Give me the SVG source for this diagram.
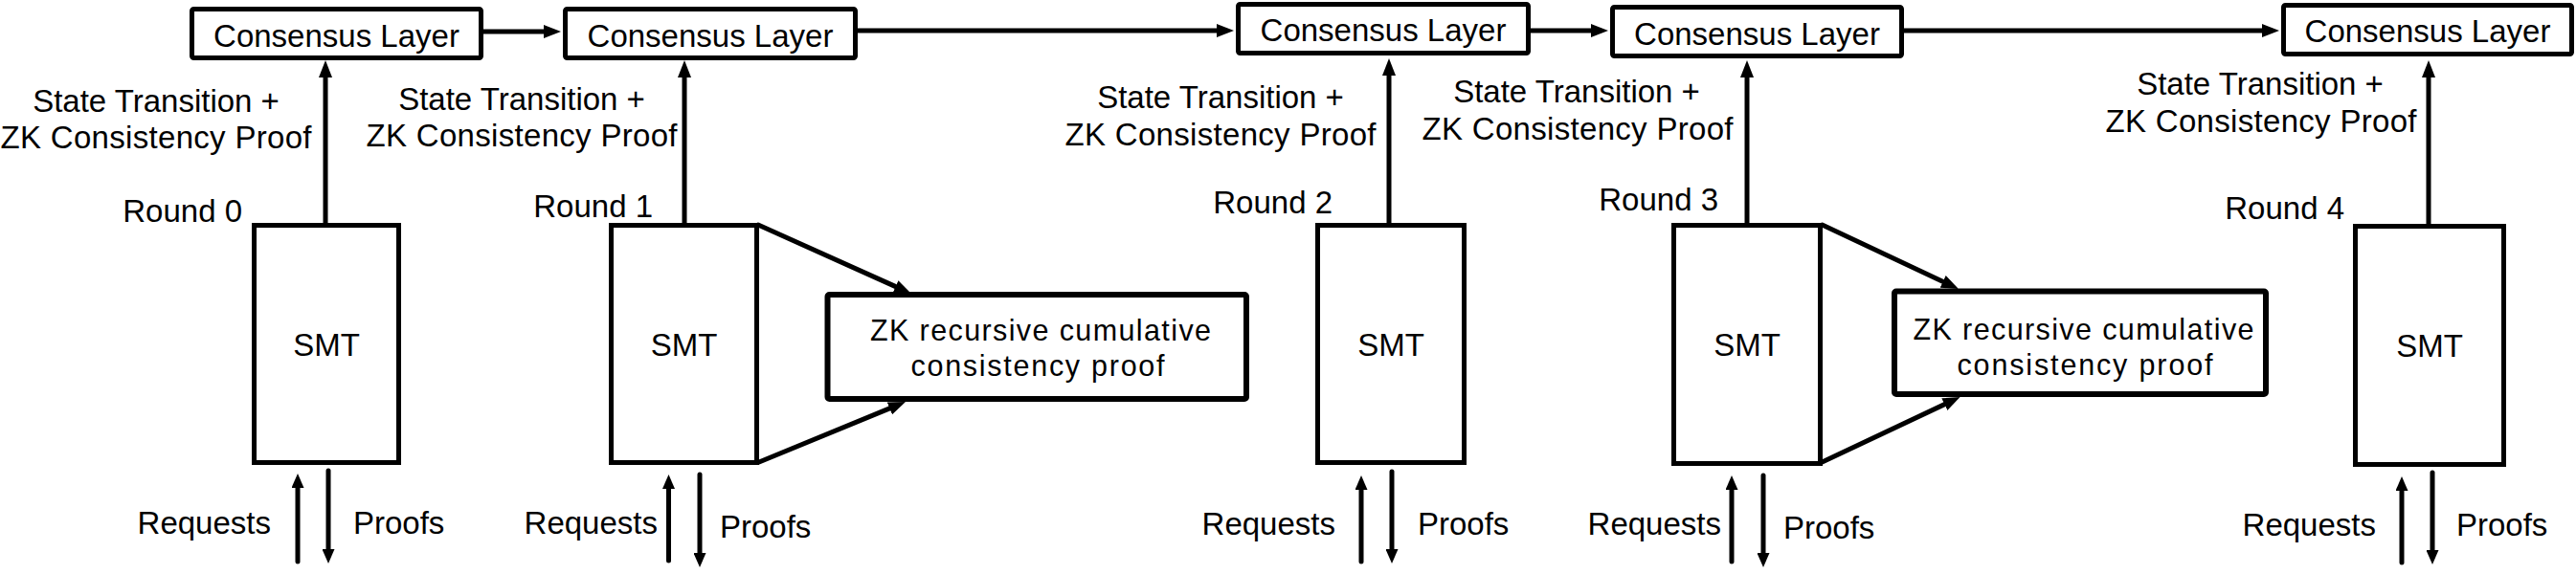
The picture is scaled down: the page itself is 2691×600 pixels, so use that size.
<svg xmlns="http://www.w3.org/2000/svg" width="2691" height="600" viewBox="0 0 2691 600">
<style>
  .box { fill: #fff; stroke: #000; stroke-width: 5; }
  .zk { fill: #fff; stroke: #000; stroke-width: 6; }
  .t { font-family: "Liberation Sans", Arial, Helvetica, sans-serif; font-size: 33px; fill: #000; }
  .tz { font-family: "Liberation Sans", Arial, Helvetica, sans-serif; font-size: 30.5px; fill: #000; }
  .c { text-anchor: middle; }
  .e { text-anchor: end; }
  .ln { fill: none; stroke: #000; stroke-width: 5; stroke-linecap: round; }
  .big { marker-end: url(#ah); }
  .sm { marker-end: url(#ahs); }
</style>
<defs>
  <marker id="ah" viewBox="0 0 18 14" refX="2" refY="7" markerWidth="18" markerHeight="14" markerUnits="userSpaceOnUse" orient="auto">
    <path d="M0,0 L18,7 L0,14 z" fill="#000"/>
  </marker>
  <marker id="ahs" viewBox="0 0 15 13" refX="2" refY="6.5" markerWidth="15" markerHeight="13" markerUnits="userSpaceOnUse" orient="auto">
    <path d="M0,0 L15,6.5 L0,13 z" fill="#000"/>
  </marker>
</defs>
<rect width="2691" height="600" fill="#fff"/>

<g id="connectors">
  <!-- consensus chain -->
  <line class="ln big" x1="505" y1="33" x2="570" y2="33"/>
  <line class="ln big" x1="896" y1="32" x2="1273" y2="32"/>
  <line class="ln big" x1="1599" y1="32" x2="1664" y2="32"/>
  <line class="ln big" x1="1989" y1="32" x2="2365" y2="32"/>
  <!-- SMT to consensus -->
  <line class="ln big" x1="340" y1="234" x2="340" y2="79"/>
  <line class="ln big" x1="715" y1="234" x2="715" y2="79"/>
  <line class="ln big" x1="1451" y1="234" x2="1451" y2="77"/>
  <line class="ln big" x1="1825" y1="234" x2="1825" y2="79"/>
  <line class="ln big" x1="2537" y1="235" x2="2537" y2="79"/>
  <!-- SMT to ZK boxes -->
  <line class="ln big" x1="792" y1="235" x2="937.4" y2="300.4"/>
  <line class="ln big" x1="793" y1="483" x2="931.2" y2="426.1"/>
  <line class="ln big" x1="1903.5" y1="235" x2="2031.5" y2="295.2"/>
  <line class="ln big" x1="1903.5" y1="483" x2="2033.1" y2="421.8"/>
  <!-- requests / proofs -->
  <line class="ln sm" x1="311" y1="587" x2="311" y2="508"/>
  <line class="ln sm" x1="343" y1="492" x2="343" y2="576"/>
  <line class="ln sm" x1="698.5" y1="586" x2="698.5" y2="509"/>
  <line class="ln sm" x1="731" y1="496" x2="731" y2="580"/>
  <line class="ln sm" x1="1422" y1="587" x2="1422" y2="510"/>
  <line class="ln sm" x1="1454" y1="493" x2="1454" y2="576"/>
  <line class="ln sm" x1="1809" y1="587" x2="1809" y2="510"/>
  <line class="ln sm" x1="1842" y1="497" x2="1842" y2="580"/>
  <line class="ln sm" x1="2509" y1="588" x2="2509" y2="511"/>
  <line class="ln sm" x1="2541" y1="494" x2="2541" y2="577"/>
  <!-- labels -->
  <text class="t c" x="163" y="117">State Transition +</text>
  <text class="t c" x="163" y="155" textLength="325">ZK Consistency Proof</text>
  <text class="t c" x="545" y="115">State Transition +</text>
  <text class="t c" x="545" y="153" textLength="325">ZK Consistency Proof</text>
  <text class="t c" x="1275" y="113">State Transition +</text>
  <text class="t c" x="1275" y="152" textLength="325">ZK Consistency Proof</text>
  <text class="t c" x="1647" y="107">State Transition +</text>
  <text class="t c" x="1648" y="146" textLength="325">ZK Consistency Proof</text>
  <text class="t c" x="2361" y="99">State Transition +</text>
  <text class="t c" x="2362" y="138" textLength="325">ZK Consistency Proof</text>
  <text class="t e" x="283" y="558">Requests</text>
  <text class="t" x="369" y="558">Proofs</text>
  <text class="t e" x="687" y="558">Requests</text>
  <text class="t" x="752" y="562">Proofs</text>
  <text class="t e" x="1395" y="559">Requests</text>
  <text class="t" x="1481" y="559">Proofs</text>
  <text class="t e" x="1798" y="559">Requests</text>
  <text class="t" x="1863" y="563">Proofs</text>
  <text class="t e" x="2482" y="560">Requests</text>
  <text class="t" x="2566" y="560">Proofs</text>
</g>

<g id="cl0">
  <rect class="box" x="200.5" y="9.5" width="302" height="51" rx="2"/>
  <text class="t c" x="351.5" y="49">Consensus Layer</text>
</g>
<g id="cl1">
  <rect class="box" x="590.5" y="9.5" width="303" height="51" rx="2"/>
  <text class="t c" x="742" y="49">Consensus Layer</text>
</g>
<g id="cl2">
  <rect class="box" x="1293.5" y="4.5" width="303" height="51" rx="2"/>
  <text class="t c" x="1445" y="43">Consensus Layer</text>
</g>
<g id="cl3">
  <rect class="box" x="1684.5" y="7.5" width="302" height="51" rx="2"/>
  <text class="t c" x="1835.5" y="47">Consensus Layer</text>
</g>
<g id="cl4">
  <rect class="box" x="2385.5" y="5.5" width="301" height="51" rx="2"/>
  <text class="t c" x="2536" y="44">Consensus Layer</text>
</g>

<g id="smt0">
  <rect class="box" x="265.5" y="235.5" width="151" height="248"/>
  <text class="t c" x="341" y="372">SMT</text>
  <text class="t e" x="253" y="232">Round 0</text>
</g>
<g id="smt1">
  <rect class="box" x="638.5" y="235.5" width="152" height="248"/>
  <text class="t c" x="714.5" y="372">SMT</text>
  <text class="t e" x="682" y="227">Round 1</text>
</g>
<g id="smt2">
  <rect class="box" x="1376.5" y="235.5" width="153" height="248"/>
  <text class="t c" x="1453" y="372">SMT</text>
  <text class="t e" x="1392" y="223">Round 2</text>
</g>
<g id="smt3">
  <rect class="box" x="1748.5" y="235.5" width="153" height="249"/>
  <text class="t c" x="1825" y="372">SMT</text>
  <text class="t e" x="1795" y="220">Round 3</text>
</g>
<g id="smt4">
  <rect class="box" x="2460.5" y="236.5" width="155" height="249"/>
  <text class="t c" x="2538" y="373">SMT</text>
  <text class="t e" x="2449" y="229">Round 4</text>
</g>

<g id="zk1">
  <rect class="zk" x="864.5" y="308" width="437.5" height="109" rx="2"/>
  <text class="tz c" x="1087" y="355.5" textLength="356">ZK recursive cumulative</text>
  <text class="tz c" x="1084" y="392.5" textLength="265">consistency proof</text>
</g>
<g id="zk3">
  <rect class="zk" x="1979" y="304.5" width="388" height="107.5" rx="2"/>
  <text class="tz c" x="2176.5" y="355" textLength="356">ZK recursive cumulative</text>
  <text class="tz c" x="2178" y="391.5" textLength="267">consistency proof</text>
</g>
</svg>
